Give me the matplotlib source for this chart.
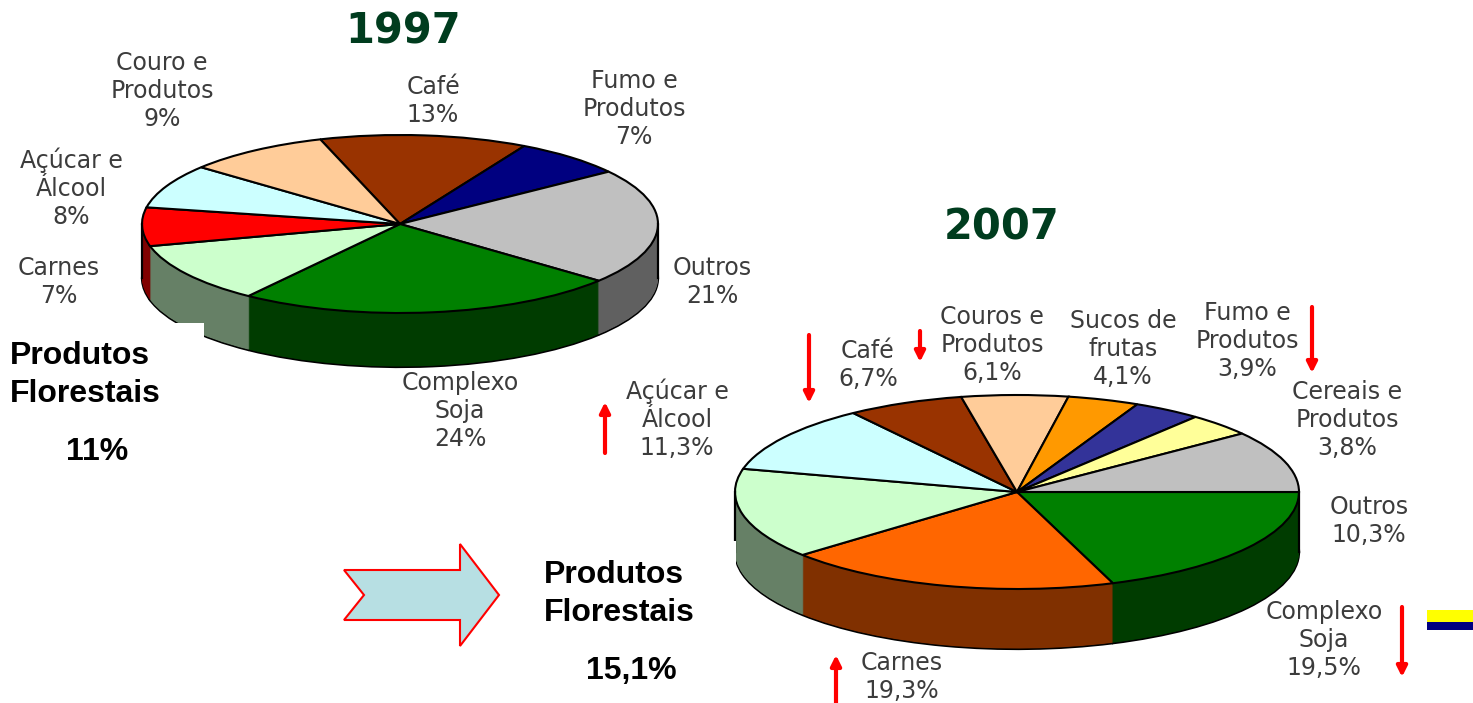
#!/usr/bin/env python3

import matplotlib
matplotlib.use('Agg')
import matplotlib.pyplot as plt
from matplotlib.patches import Polygon, Rectangle

W, H = 1473, 703

# 1997, clockwise from the top
labels_1997 = ['Café', 'Fumo e\nProdutos', 'Outros', 'Complexo\nSoja', 'Produtos\nFlorestais',
               'Carnes', 'Açúcar e\nÁlcool', 'Couro e\nProdutos']
values_1997 = [13, 7, 21, 24, 11, 7, 8, 9]
top_1997 = ['#993300', '#000080', '#c0c0c0', '#008000', '#ccffcc', '#ff0000', '#ccffff', '#ffcc99']
side_1997 = ['#4d1a00', '#000040', '#606060', '#003c00', '#668066', '#800000', '#668080', '#80664d']

# 2007, clockwise from the right
labels_2007 = ['Complexo\nSoja', 'Carnes', 'Produtos\nFlorestais', 'Açúcar e\nÁlcool', 'Café',
               'Couros e\nProdutos', 'Sucos de\nfrutas', 'Fumo e\nProdutos', 'Cereais e\nProdutos', 'Outros']
values_2007 = [19.5, 19.3, 15.1, 11.3, 6.7, 6.1, 4.1, 3.9, 3.8, 10.3]
top_2007 = ['#008000', '#ff6600', '#ccffcc', '#ccffff', '#993300', '#ffcc99', '#ff9900', '#333399', '#ffff99', '#c0c0c0']
side_2007 = ['#003c00', '#803000', '#668066', '#668080', '#4d1a00', '#80664d', '#804d00', '#1a1a4d', '#80804d', '#606060']

pos_1997 = [(433, 101), (634, 109), (712, 282), (460, 411), None, (59, 282), (71, 188), (162, 91)]
pos_2007 = [(1324, 640), (902, 677), None, (677, 419), (868, 365), (992, 345), (1123, 349), (1247, 341), (1347, 420), (1369, 521)]

fig = plt.figure(figsize=(W / 100, H / 100), dpi=100, facecolor='white')


def draw_pie(values, top, side, cx, cy, rx, ry, depth, start):
    d = depth / ry
    ax = fig.add_axes([(cx - rx - 5) / W, 1 - (cy + ry + depth + 5) / H,
                       (2 * rx + 10) / W, (2 * ry + depth + 10) / H])
    # wall: stack of darker pies, bottom one carries the outline
    ax.pie(values, colors=side, startangle=start, counterclock=False, center=(0, -d),
           wedgeprops=dict(edgecolor='black', linewidth=1.6))
    for i in range(int(depth * 2) - 1, 0, -1):
        ax.pie(values, colors=side, startangle=start, counterclock=False, center=(0, -i / (2 * ry)),
               wedgeprops=dict(linewidth=0))
    ax.plot([-1, -1], [0, -d], color='black', linewidth=1.6)
    ax.plot([1, 1], [0, -d], color='black', linewidth=1.6)
    ax.pie(values, colors=top, startangle=start, counterclock=False,
           wedgeprops=dict(edgecolor='black', linewidth=1.5))
    ax.set_aspect('auto')
    ax.set_xlim(-(rx + 5) / rx, (rx + 5) / rx)
    ax.set_ylim(-1 - d - 5 / ry, 1 + 5 / ry)
    ax.axis('off')


draw_pie(values_1997, top_1997, side_1997, 400, 224, 258, 89, 54, 108)
draw_pie(values_2007, top_2007, side_2007, 1017, 492, 282, 97, 60, 0)

# overlay in picture pixels for the pasted boxes, labels and arrows
ov = fig.add_axes([0, 0, 1, 1], facecolor='none')
ov.set_xlim(0, W)
ov.set_ylim(H, 0)
ov.axis('off')

ov.add_patch(Rectangle((0, 323), 204, 152, facecolor='white', edgecolor='none'))
ov.add_patch(Rectangle((520, 541), 216, 162, facecolor='white', edgecolor='none'))


def fmt(v):
    return str(v).replace('.', ',') + '%'


for names, vals, spots in [(labels_1997, values_1997, pos_1997), (labels_2007, values_2007, pos_2007)]:
    for name, v, p in zip(names, vals, spots):
        if p is not None:
            ov.text(p[0], p[1], name + '\n' + fmt(v), ha='center', va='center', color='#3c3c3c',
                    fontsize=17, family='DejaVu Sans', linespacing=1.22, clip_on=True)

ov.text(403, 32, '1997', ha='center', va='center', color='#003c1e', fontsize=30, fontweight='bold')
ov.text(1002, 227, '2007', ha='center', va='center', color='#003c1e', fontsize=30, fontweight='bold')

bold = dict(family='Liberation Sans', fontweight='bold', fontsize=23, color='black', va='center')
ov.text(10, 356, labels_1997[4].split('\n')[0], **bold)
ov.text(10, 394, labels_1997[4].split('\n')[1], **bold)
ov.text(97, 452, fmt(values_1997[4]), ha='center', **bold)
ov.text(544, 575, labels_2007[2].split('\n')[0], **bold)
ov.text(544, 613, labels_2007[2].split('\n')[1], **bold)
ov.text(631, 671, fmt(values_2007[2]), ha='center', **bold)

arrows = [(605, 453, 402), (809, 335, 403), (920, 331, 362), (1312, 307, 373), (1402, 607, 677), (836, 703, 655)]
for x, y0, y1 in arrows:
    ov.annotate('', xy=(x, y1), xytext=(x, y0),
                arrowprops=dict(arrowstyle='-|>', color='#ff0000', lw=3, mutation_scale=15, shrinkA=0, shrinkB=0))

ov.add_patch(Polygon([(344, 570), (460, 570), (460, 544), (499, 595), (460, 646), (460, 620), (344, 620), (364, 595)],
                     closed=True, facecolor='#b7dfe3', edgecolor='#ff0000', linewidth=1.5))

ov.add_patch(Rectangle((1427, 610), 46, 12, facecolor='#ffff00', edgecolor='none'))
ov.add_patch(Rectangle((1427, 622), 46, 8, facecolor='#000080', edgecolor='none'))

fig.savefig('out.png', dpi=100)
